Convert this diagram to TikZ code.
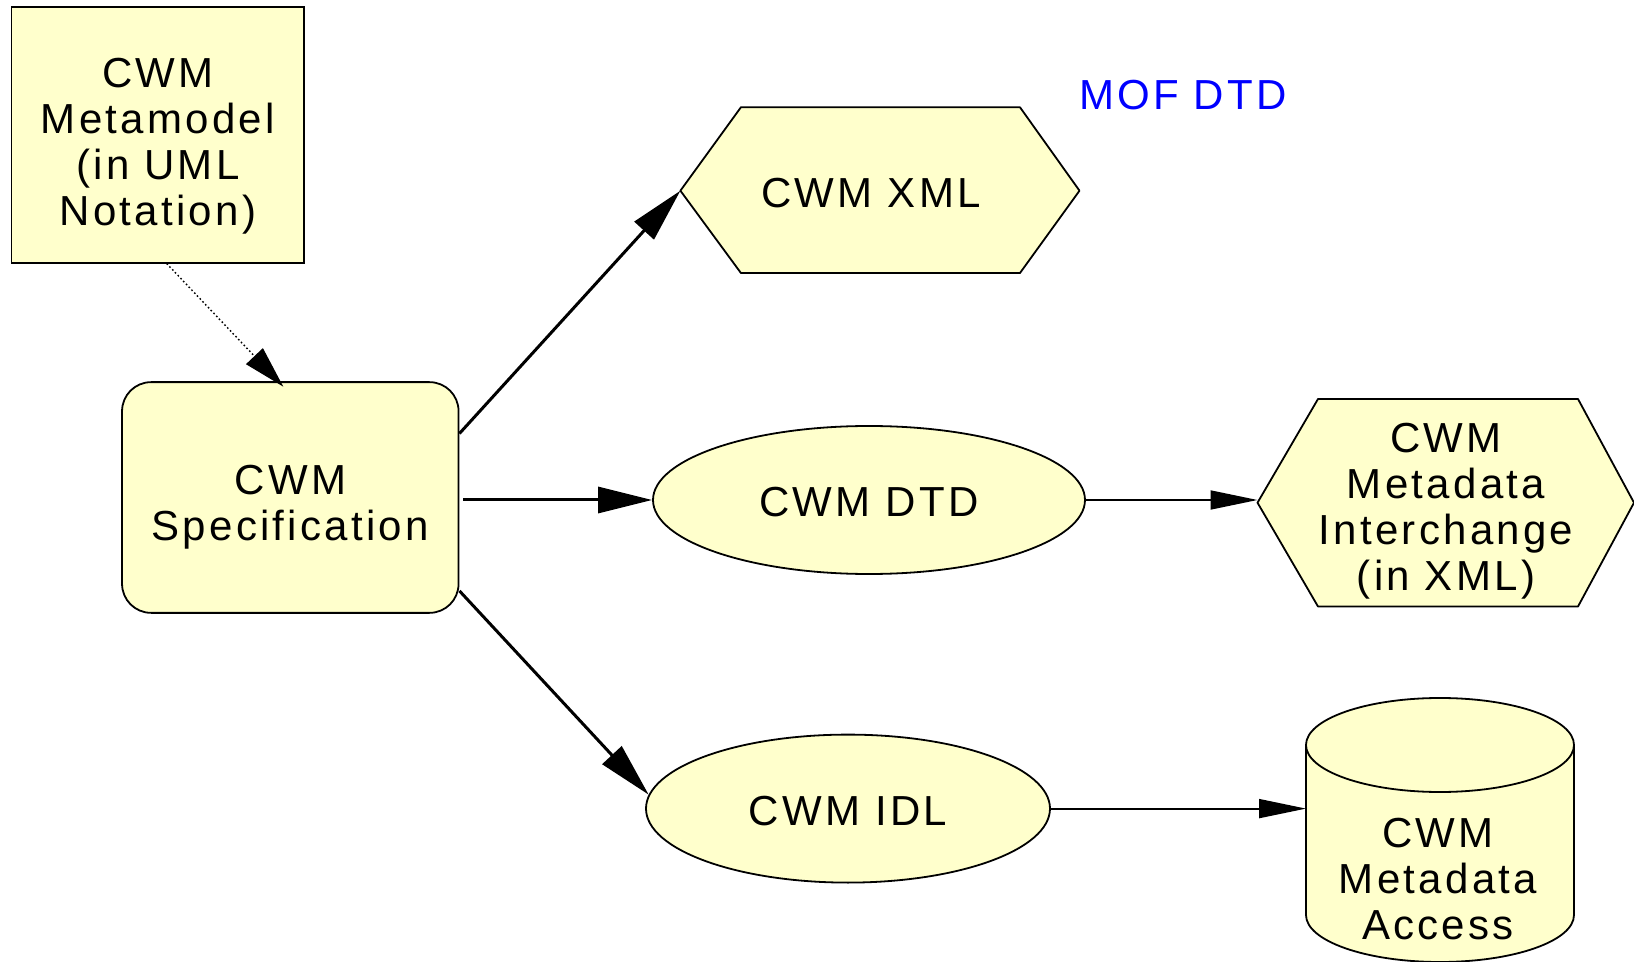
\documentclass[tikz,border=0pt]{standalone}
\usepackage{fontspec}
\newfontfamily\lbl{Liberation Sans}[LetterSpace=7.8]
\usetikzlibrary{arrows.meta,shapes.geometric,calc}
\definecolor{boxfill}{RGB}{255,255,204}
\definecolor{mofblue}{RGB}{0,0,255}
\begin{document}
\begin{tikzpicture}[x=0.5pt,y=-0.5pt,
  lbltext/.style={font=\lbl\fontsize{21}{23}\selectfont, align=center, inner sep=0pt},
  box/.style={lbltext, draw, fill=boxfill, line width=0.9pt},
  shapeline/.style={draw, fill=boxfill, line width=0.9pt, line join=round},
  thickarrow/.style={line width=1.5pt, -{Triangle[length=27pt,width=13pt]}},
  thinarrow/.style={line width=0.9pt, -{Triangle[length=23.5pt,width=9.5pt]}},
  dotarrow/.style={line width=0.7pt, dash pattern=on 0.8pt off 1.2pt, -{Triangle[length=21pt,width=11.5pt]}}]
\useasboundingbox (0,0) rectangle (1634,962);

% nodes
\node[box, minimum width=146.4pt, minimum height=127.65pt] (meta) at (157.9,135) {};
\node[lbltext] (metatext) at (157.9,145.7) {CWM\\Metamodel\\(in UML\\Notation)};
\node[box, rounded corners=14.5pt, minimum width=168.25pt, minimum height=115.35pt] (spec) at (290.3,497.5) {};
\node[lbltext] (spectext) at (290.3,506.9) {CWM\\Specification};
\node[box, ellipse, minimum width=216pt, minimum height=74pt] (dtd) at (869,500) {};
\node[lbltext] (dtdtext) at (869,502) {CWM DTD};
\node[box, ellipse, minimum width=202pt, minimum height=74pt] (idl) at (848,808.6) {};
\node[lbltext] (idltext) at (848,810.7) {CWM IDL};

% CWM XML hexagon
\path[shapeline] (680.4,190.7) -- (740.9,107.3) -- (1020,107.3) -- (1079.5,190.7) -- (1020,273) -- (740.9,273) -- cycle;
\coordinate (xmlW) at (680.4,190.7);
\node[lbltext] (xml) at (871,192.8) {CWM XML};

% Interchange hexagon
\path[shapeline] (1257.5,502.7) -- (1318,399) -- (1578,399) -- (1634,502.7) -- (1578,606.5) -- (1318,606.5) -- cycle;
\coordinate (xchW) at (1257.5,502.7);
\node[lbltext] (xch) at (1446,511.2) {CWM\\Metadata\\Interchange\\(in XML)};

% cylinder
\path[fill=boxfill] (1306,745) -- (1306,915) arc[start angle=180,end angle=360,x radius=67pt,y radius=23.5pt] -- (1574,745) arc[start angle=0,end angle=180,x radius=67pt,y radius=23.5pt] -- cycle;
\draw[line width=0.9pt] (1306,745) -- (1306,915) arc[start angle=180,end angle=360,x radius=67pt,y radius=23.5pt] -- (1574,745);
\draw[line width=0.9pt] (1440,745) ellipse [x radius=67pt, y radius=23.5pt];
\coordinate (dbW) at (1306,810.7);
\node[lbltext] (db) at (1438,879.5) {CWM\\Metadata\\Access};

% MOF DTD label
\node[lbltext, text=mofblue] (mof) at (1183,95) {MOF DTD};

% connectors
\draw[dotarrow] ([xshift=4.4pt]meta.south) -- ([xshift=-3.5pt,yshift=-2.7pt]spec.north);
\draw[thickarrow] ([yshift=32pt]spec.east) -- (xmlW);
\draw[thickarrow] ($(spec.east |- dtd.west)+(4,0)$) -- (dtd.west);
\draw[thickarrow] ([yshift=-46.7pt]spec.east) -- (idl.176);
\draw[thinarrow] (dtd.east) -- (dtd.east -| xchW);
\draw[thinarrow] (idl.east) -- (idl.east -| dbW);
\end{tikzpicture}
\end{document}
